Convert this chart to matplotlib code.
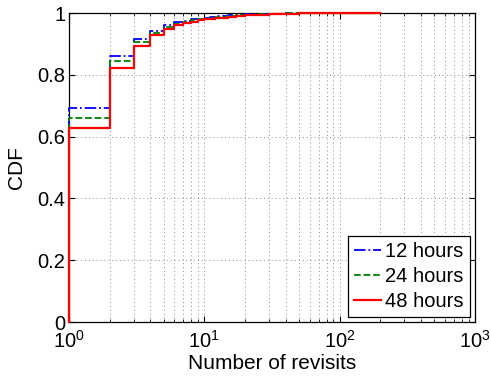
import matplotlib
matplotlib.use('Agg')
import matplotlib.pyplot as plt
import numpy as np

plt.rcParams['font.family'] = ['Liberation Sans', 'DejaVu Sans']

# number of revisits (step points) and CDF values per time window
revisits = [1, 2, 3, 4, 5, 6, 7, 8, 9, 10, 11, 12, 13, 15, 17, 20, 25, 30, 40, 50, 200]
cdf_12h = [0.692, 0.861, 0.917, 0.943, 0.960, 0.970, 0.975, 0.979, 0.982, 0.985,
           0.987, 0.989, 0.990, 0.992, 0.994, 0.996, 0.997, 0.998, 0.999, 1.0, 1.0]
cdf_24h = [0.660, 0.845, 0.905, 0.936, 0.955, 0.965, 0.971, 0.976, 0.979, 0.982,
           0.984, 0.986, 0.988, 0.990, 0.992, 0.995, 0.997, 0.998, 0.999, 1.0, 1.0]
cdf_48h = [0.628, 0.821, 0.892, 0.928, 0.947, 0.960, 0.967, 0.972, 0.976, 0.979,
           0.981, 0.983, 0.985, 0.988, 0.990, 0.993, 0.995, 0.997, 0.998, 0.999, 1.0]
labels = ['12 hours', '24 hours', '48 hours']

fig = plt.figure(figsize=(4.91, 3.86), dpi=100)
ax = fig.add_axes([0.1405, 0.1658, 0.8269, 0.8005])

styles = [('-.', (0, 0, 1), 1.3), ('--', (0, 0.5, 0), 1.3), ('-', (1, 0, 0), 1.6)]
for cdf, lab, (ls, col, lw) in zip([cdf_12h, cdf_24h, cdf_48h], labels, styles):
    x = [revisits[0]] + revisits
    y = [0.0] + cdf
    ax.step(x, y, where='post', linestyle=ls, color=col, linewidth=lw, label=lab,
            clip_on=False, zorder=3)

ax.set_xscale('log')
ax.set_xlim(1, 1000)
ax.set_ylim(0, 1)
ax.set_yticks(np.arange(0, 1.01, 0.2))
ax.set_yticklabels(['0', '0.2', '0.4', '0.6', '0.8', '1'])
ax.grid(True, which='major', linestyle=(0, (1, 3)), color='#888888', linewidth=0.7)
ax.grid(True, which='minor', axis='x', linestyle=(0, (1, 3)), color='#888888', linewidth=0.7)
ax.tick_params(which='both', direction='in', top=True, right=True, labelsize=14.5)
ax.tick_params(which='major', length=4)
ax.tick_params(which='minor', length=2)
ax.tick_params(axis='x', which='major', pad=6)
ax.tick_params(axis='y', which='major', pad=2.5)
for s in ax.spines.values():
    s.set_linewidth(0.9)
ax.set_xlabel('Number of revisits', fontsize=15, labelpad=1)
ax.set_ylabel('CDF', fontsize=15, labelpad=8)

leg = ax.legend(loc='lower right', fontsize=14.5, fancybox=False, framealpha=1,
                edgecolor='black', handlelength=1.35, handletextpad=0.2,
                borderpad=0.3, labelspacing=0.3, borderaxespad=0.25)
leg.get_frame().set_linewidth(0.9)

fig.savefig('out.png', dpi=100)
